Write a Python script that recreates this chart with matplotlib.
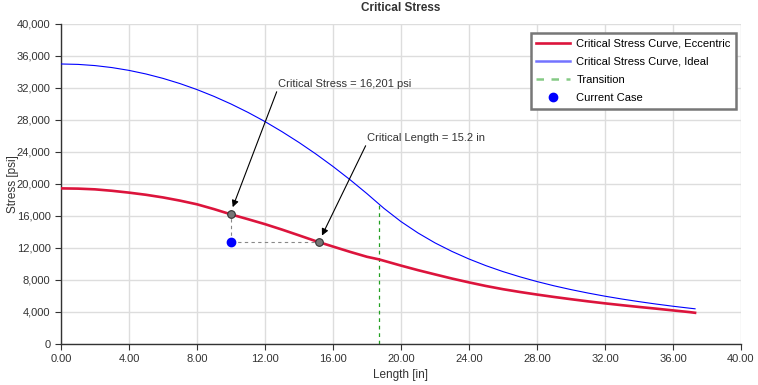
import matplotlib.pyplot as plt
from matplotlib.ticker import FuncFormatter, MultipleLocator

plt.rcParams['font.family'] = ['Liberation Sans', 'DejaVu Sans']

# -------------------------
# DATA
# -------------------------
ecc_len = [0, 1, 2, 3, 4, 5, 6, 7, 8, 9, 10, 11, 12, 13, 14, 15, 16, 17, 18, 18.7,
           19, 20, 21, 22, 23, 24, 25, 26, 27, 28, 29, 30, 31, 32, 33, 34, 35, 36, 37, 37.3]
ecc_stress = [19450, 19420, 19330, 19150, 18920, 18650, 18320, 17920, 17460, 16860,
              16200, 15600, 14980, 14300, 13580, 12850, 12180, 11520, 10900, 10580,
              10400, 9800, 9230, 8700, 8180, 7700, 7250, 6850, 6500, 6180,
              5880, 5600, 5330, 5080, 4850, 4630, 4420, 4200, 3980, 3900]

ideal_len = [0, 1, 2, 3, 4, 5, 6, 7, 8, 9, 10, 11, 12, 13, 14, 15, 16, 17, 18, 18.7,
             19, 20, 21, 22, 23, 24, 25, 26, 27, 28, 29, 30, 31, 32, 33, 34, 35, 36, 37, 37.3]
ideal_stress = [35000, 34950, 34800, 34550, 34200, 33750, 33200, 32550, 31800, 30950,
                30000, 28950, 27800, 26540, 25190, 23740, 22190, 20540, 18790, 17500,
                16950, 15300, 13880, 12640, 11570, 10625, 9790, 9050, 8395, 7805,
                7275, 6800, 6370, 5975, 5620, 5295, 4995, 4720, 4470, 4400]

transition_len = 18.7
transition_stress = 17500

current_len = 10.0
current_stress = 12700
critical_stress = 16201
critical_len = 15.2

# -------------------------
# PLOT
# -------------------------
fig = plt.figure(figsize=(7.58, 3.85), dpi=100)
ax = fig.add_axes([0.0805, 0.1065, 0.897, 0.8312])

ax.plot(ecc_len, ecc_stress, color="#dc143c", lw=1.9, label="Critical Stress Curve, Eccentric", zorder=3)
ax.plot(ideal_len, ideal_stress, color="#0000ff", lw=0.8, label="Critical Stress Curve, Ideal", zorder=3)
ax.plot([transition_len, transition_len], [0, transition_stress], color="#22a022", lw=0.9,
        ls=(0, (3, 3)), label="Transition", zorder=2)

# guide lines from current case to the curve
ax.plot([current_len, critical_len], [current_stress, current_stress], color="#888888", lw=0.8,
        ls=(0, (3, 3)), zorder=2)
ax.plot([current_len, current_len], [current_stress, critical_stress], color="#888888", lw=0.8,
        ls=(0, (3, 3)), zorder=2)

ax.plot([current_len, critical_len], [critical_stress, current_stress], ls="none", marker="o",
        ms=5.5, mfc="#777777", mec="#333333", mew=0.8, zorder=4)
ax.plot(current_len, current_stress, ls="none", marker="o", ms=6, color="#0000ff",
        label="Current Case", zorder=4)

ax.annotate("Critical Stress = 16,201 psi", xy=(10.1, 17100), xytext=(12.75, 32500),
            fontsize=8, color="#333333", va="center", ha="left",
            arrowprops=dict(arrowstyle="-|>", color="black", lw=0.8, mutation_scale=10,
                            shrinkA=0, shrinkB=0, relpos=(0, 0)))
ax.annotate("Critical Length = 15.2 in", xy=(15.35, 13550), xytext=(18.0, 25750),
            fontsize=8, color="#333333", va="center", ha="left",
            arrowprops=dict(arrowstyle="-|>", color="black", lw=0.8, mutation_scale=10,
                            shrinkA=0, shrinkB=0, relpos=(0, 0)))

ax.set_xlim(0, 40)
ax.set_ylim(0, 40000)
ax.xaxis.set_major_locator(MultipleLocator(4))
ax.yaxis.set_major_locator(MultipleLocator(4000))
ax.xaxis.set_major_formatter(FuncFormatter(lambda v, p: f"{v:.2f}"))
ax.yaxis.set_major_formatter(FuncFormatter(lambda v, p: f"{v:,.0f}"))

ax.grid(True, color="#dddddd", lw=1.0)
ax.set_axisbelow(True)
for side in ["top", "right"]:
    ax.spines[side].set_visible(False)
for side in ["left", "bottom"]:
    ax.spines[side].set_color("#333333")
    ax.spines[side].set_linewidth(1.0)
ax.tick_params(labelsize=8, colors="#333333", length=4, width=0.8)

ax.set_xlabel("Length [in]", fontsize=8.5, color="#333333", labelpad=3)
fig.text(13 / 758, 0.5 + 0.1065 / 2 - 0.0623 / 2, "Stress [psi]", rotation=90, fontsize=8.5,
         color="#333333", ha="center", va="center")
ax.set_title("Critical Stress", fontsize=8.5, fontweight="bold", color="#333333", pad=9)

leg = ax.legend(loc="upper right", bbox_to_anchor=(0.993, 0.972), borderaxespad=0,
                fontsize=8, frameon=True, fancybox=False, edgecolor="#777777", framealpha=1,
                borderpad=0.5, handlelength=3.0, handletextpad=0.6, labelspacing=0.74)
leg.get_frame().set_linewidth(1.8)
for line in leg.get_lines()[1:3]:
    line.set_alpha(0.55)
    line.set_linewidth(1.8)

fig.savefig("out.png", dpi=100)
